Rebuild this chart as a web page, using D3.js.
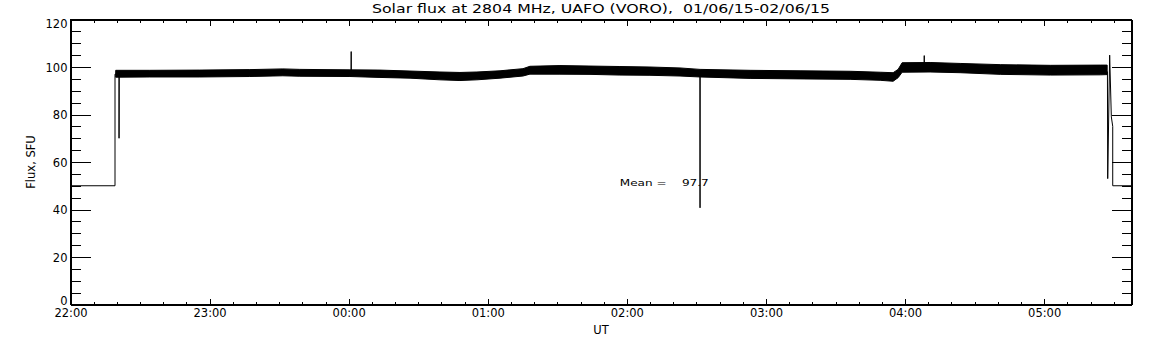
<!DOCTYPE html>
<html lang="en">
<head>
    <meta charset="UTF-8">
    <title>Solar flux at 2804 MHz</title>
    <script src="https://d3js.org/d3.v7.min.js"></script>
    <style>
        body {
            margin: 0;
            background-color: #ffffff;
        }
        svg text {
            font-family: "DejaVu Sans", sans-serif;
            fill: #000;
        }
        .axis path, .axis line {
            stroke: #000;
            shape-rendering: crispEdges;
        }
    </style>
</head>
<body>
    <svg id="chart" width="1152" height="345"></svg>

    <script>
        // hours since 22:00 UT
        const hourTicks = [0, 1, 2, 3, 4, 5, 6, 7];
        const hourLabels = ["22:00", "23:00", "00:00", "01:00", "02:00", "03:00", "04:00", "05:00"];
        const fluxTicks = [0, 20, 40, 60, 80, 100, 120];
        const timeEnd = 7.628;
        const meanFlux = 97.7;

        // noisy band: lower / upper envelope of the flux record (SFU)
        const bandTime = [0.325, 0.57, 0.93, 1.289, 1.527, 1.649, 2.009, 2.225, 2.441, 2.656, 2.80, 2.922,
                          3.088, 3.253, 3.303, 3.519, 3.735, 3.95, 4.166, 4.382, 4.526, 4.886, 5.245, 5.605,
                          5.821, 5.914, 5.950, 5.979, 6.18, 6.396, 6.684, 7.044, 7.403, 7.453];
        const bandLow  = [95.7, 95.8, 95.8, 96.0, 96.3, 96.1, 96.0, 95.6, 95.3, 94.6, 94.3, 94.6,
                          95.3, 96.2, 97.0, 97.0, 96.9, 96.6, 96.5, 96.2, 95.8, 95.2, 95.0, 94.8,
                          94.4, 94.0, 95.5, 97.8, 97.9, 97.6, 96.9, 96.6, 96.7, 96.8];
        const bandHigh = [98.6, 98.6, 98.7, 98.9, 99.2, 99.0, 98.8, 98.7, 98.3, 97.9, 97.7, 97.9,
                          98.4, 99.3, 100.3, 100.6, 100.4, 100.2, 100.0, 99.6, 99.0, 98.6, 98.4, 98.2,
                          97.8, 97.6, 99.0, 101.8, 101.9, 101.5, 101.0, 100.7, 100.8, 100.8];

        // single samples: off-level start/end and spikes
        const lineTime = [0, 0.320, 0.320, 0.349, 0.349, 0.350, 2.017, 2.018, 2.019, 4.525, 4.526, 4.527,
                          5.914, 5.979, 6.137, 6.138, 6.139, 7.455, 7.457, 7.471, 7.483, 7.493, 7.493, 7.628];
        const lineFlux = [50, 50, 97, 97, 70, 97, 97.5, 106.5, 97.5, 97, 40.7, 97,
                          95.8, 99.8, 100, 104.8, 100, 98, 53, 105, 79, 75, 50, 50];

        const svg = d3.select("#chart");
        const margin = { top: 19.5, right: 20.5, bottom: 40.5, left: 70.5 };
        const width = +svg.attr("width") - margin.left - margin.right;
        const height = +svg.attr("height") - margin.top - margin.bottom;

        const x = d3.scaleLinear().domain([0, timeEnd]).range([0, width]);
        const y = d3.scaleLinear().domain([0, 120]).range([height, 0]);

        const g = svg.append("g")
            .attr("transform", `translate(${margin.left},${margin.top})`);

        // data
        const band = bandTime.map((t, i) => ({ t: t, lo: bandLow[i], hi: bandHigh[i] }));
        g.append("path")
            .datum(band)
            .attr("d", d3.area().x(d => x(d.t)).y0(d => y(d.lo)).y1(d => y(d.hi)))
            .attr("fill", "#000")
            .attr("stroke", "#000")
            .attr("stroke-width", 1);

        const pts = lineTime.map((t, i) => ({ t: t, v: lineFlux[i] }));
        g.append("path")
            .datum(pts)
            .attr("d", d3.line().x(d => x(d.t)).y(d => y(d.v)))
            .attr("fill", "none")
            .attr("stroke", "#000")
            .attr("stroke-width", 1);

        // axes
        const minorHours = d3.range(0, timeEnd, 1 / 6).filter(h => Math.abs(h - Math.round(h)) > 0.01);
        const minorFlux = d3.range(5, 120, 5).filter(v => v % 20 !== 0);

        g.append("g").attr("class", "axis")
            .attr("transform", `translate(0,${height})`)
            .call(d3.axisBottom(x).tickValues(hourTicks).tickSizeInner(-6).tickSizeOuter(0)
                .tickPadding(4).tickFormat((d, i) => hourLabels[i]))
            .call(a => a.selectAll("text").style("font-size", "11.5px"));
        g.append("g").attr("class", "axis")
            .attr("transform", `translate(0,${height})`)
            .call(d3.axisBottom(x).tickValues(minorHours).tickSizeInner(-3).tickSizeOuter(0).tickFormat(""));
        g.append("g").attr("class", "axis")
            .call(d3.axisTop(x).tickValues(hourTicks).tickSizeInner(-6).tickSizeOuter(0).tickFormat(""));
        g.append("g").attr("class", "axis")
            .call(d3.axisTop(x).tickValues(minorHours).tickSizeInner(-3).tickSizeOuter(0).tickFormat(""));

        g.append("g").attr("class", "axis")
            .call(d3.axisLeft(y).tickValues(fluxTicks).tickSizeInner(-20).tickSizeOuter(0).tickPadding(3))
            .call(a => a.selectAll("text")
                .style("font-size", "11.5px")
                .attr("dy", d => d === 0 ? "0em" : d === 120 ? "0.73em" : "0.36em"));
        g.append("g").attr("class", "axis")
            .call(d3.axisLeft(y).tickValues(minorFlux).tickSizeInner(-10).tickSizeOuter(0).tickFormat(""));
        g.append("g").attr("class", "axis")
            .attr("transform", `translate(${width},0)`)
            .call(d3.axisRight(y).tickValues(fluxTicks).tickSizeInner(-20).tickSizeOuter(0).tickFormat(""));
        g.append("g").attr("class", "axis")
            .attr("transform", `translate(${width},0)`)
            .call(d3.axisRight(y).tickValues(minorFlux).tickSizeInner(-10).tickSizeOuter(0).tickFormat(""));

        g.append("rect")
            .attr("width", width).attr("height", height)
            .attr("fill", "none").attr("stroke", "#000")
            .attr("shape-rendering", "crispEdges");

        // texts
        svg.append("text")
            .attr("x", margin.left + width / 2).attr("y", 13)
            .attr("text-anchor", "middle")
            .attr("textLength", 458).attr("lengthAdjust", "spacingAndGlyphs")
            .style("font-size", "12.5px").style("white-space", "pre")
            .text("Solar flux at 2804 MHz, UAFO (VORO),  01/06/15-02/06/15");

        svg.append("text")
            .attr("transform", `translate(35,${margin.top + height / 2}) rotate(-90)`)
            .attr("text-anchor", "middle")
            .style("font-size", "11.5px")
            .text("Flux, SFU");

        svg.append("text")
            .attr("x", margin.left + width / 2).attr("y", 334)
            .attr("text-anchor", "middle")
            .style("font-size", "11.5px")
            .text("UT");

        g.append("text")
            .attr("x", x(3.949)).attr("y", y(49.7))
            .attr("textLength", 89).attr("lengthAdjust", "spacingAndGlyphs")
            .style("font-size", "9.5px").style("white-space", "pre")
            .text("Mean =    " + meanFlux.toFixed(1));
    </script>
</body>
</html>
